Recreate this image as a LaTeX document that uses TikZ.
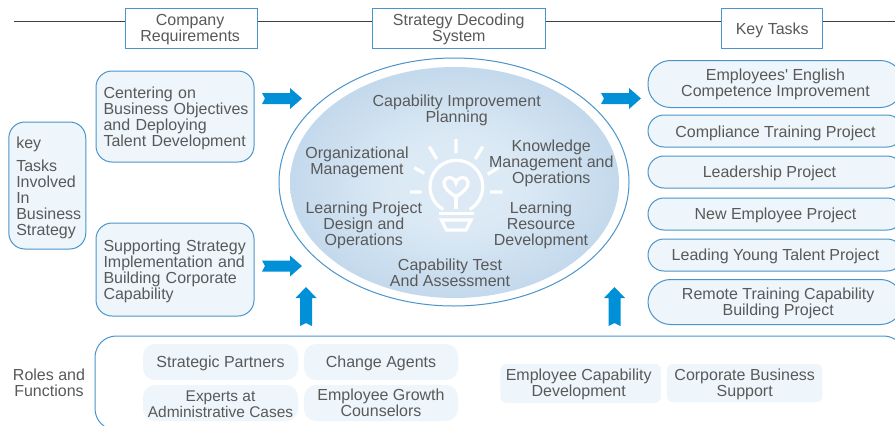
\documentclass[tikz,border=0pt]{standalone}
\usepackage{fontspec}
\setmainfont{Liberation Sans}
\newfontfamily\straightfont{Liberation Sans}
\usetikzlibrary{shapes.geometric}
\definecolor{txt}{HTML}{595959}
\definecolor{edge}{HTML}{4A94CB}
\definecolor{softfill}{HTML}{EEF6FB}
\definecolor{arrowblue}{HTML}{0090D8}
\definecolor{ruleline}{HTML}{404040}
\newcommand{\lowerone}{\rule{0pt}{10.4pt}}
\newcommand{\lowertwo}{\rule{0pt}{11.9pt}}
\pgfdeclareradialshading{bulbglow}{\pgfpoint{0bp}{0bp}}{rgb(0bp)=(0.87,0.92,0.96); rgb(10bp)=(0.86,0.915,0.96); rgb(25bp)=(0.765,0.85,0.925); rgb(50bp)=(0.76,0.85,0.925)}
\tikzset{
  boxsize/.style 2 args={minimum width=#1*0.75pt,minimum height=#2*0.75pt},
  label/.style={text=txt,font=\fontsize{12}{12}\selectfont,align=center,inner sep=0pt,
    execute at begin node={\rule{0pt}{11.2pt}},execute at end node={\rule[-2.6pt]{0pt}{0pt}}},
  push/.style={execute at begin node={\rule{0pt}{#1pt}}},
  headbox/.style={label,draw=edge,fill=white,line width=0.75pt},
  softbox/.style={label,draw=edge,fill=softfill,line width=0.75pt},
  leftbox/.style={softbox,rounded corners=12pt,align=left,inner xsep=5.6pt},
  pillbox/.style={softbox,rounded corners=12pt},
  rolebox/.style={label,fill=softfill,rounded corners=9pt},
  duty/.style={label,fill=softfill,rounded corners=4.5pt},
  bulbline/.style={draw=white,line width=2.4pt},
  rightarrow/.pic={\fill[arrowblue] (-20,-5.5) -- (8,-5.5) -- (8,-10.5) -- (20,0) -- (8,10.5) -- (8,5.5) -- (-20,5.5) -- (-17,0) -- cycle;},
  uparrow/.pic={\fill[arrowblue] (-6,19.5) -- (-6,-8.5) -- (-10.5,-8.5) -- (0,-19.5) -- (10.5,-8.5) -- (6,-8.5) -- (6,19.5) -- (0,16.5) -- cycle;}
}
\begin{document}
\begin{tikzpicture}[x=0.75pt,y=-0.75pt]
\clip[use as bounding box] (0,0) rectangle (895,425);
\fill[white] (0,0) rectangle (895,425);
% header
\coordinate (ruleL) at (14,21.5);
\coordinate (ruleR) at (895,21.5);
\node[headbox,boxsize={131.5}{40}] (company) at (191.5,28.3) {\lowerone Company\hspace*{2pt}\\Requirements\hspace*{2pt}};
\node[headbox,boxsize={172.5}{40}] (decoding) at (458.8,28.3) {\lowerone Strategy Decoding\\System};
\node[headbox,boxsize={101}{40}] (keytasks) at (772.2,28.3) {Key Tasks};
\draw[ruleline,line width=0.75pt] (ruleL) -- (company.west |- ruleL) (company.east |- ruleL) -- (decoding.west |- ruleL) (decoding.east |- ruleL) -- (keytasks.west |- ruleL) (keytasks.east |- ruleL) -- (ruleR);
% left column
\node[leftbox,push=12.7,boxsize={74.5}{127},text width=62*0.75pt] (keybox) at (47.3,185.5) {key\\[5.4pt]Tasks\\Involved\\In\\\mbox{Business}\\Strategy};
\node[leftbox,boxsize={158}{91},text width=143*0.75pt] (reqone) at (175,116.5) {Centering on\\\mbox{Business Objectives}\\and Deploying\\\mbox{Talent Development}};
\node[leftbox,boxsize={158}{93},text width=143*0.75pt] (reqtwo) at (175,269.5) {Supporting Strategy\\\mbox{Implementation and}\\Building Corporate\\Capability};
% ellipse
\node[ellipse,draw=edge,fill=white,line width=0.75pt,boxsize={350}{248},inner sep=0pt] (outerring) at (454,182) {};
\node[ellipse,shading=bulbglow,boxsize={329}{231},inner sep=0pt] (innerdisc) at (454.5,182.5) {};
% bulb
\draw[bulbline] (443.2,209.5) arc[start angle=120,end angle=420,radius=26.4];
\draw[bulbline] (456,209) -- (456,194);
\draw[bulbline] (456,197) .. controls (449,192) and (443,187.5) .. (444,182) .. controls (445,176) and (454,175.5) .. (456,183) .. controls (458,175.5) and (467,176) .. (468,182) .. controls (469,187.5) and (463,192) .. (456,197) -- cycle;
\draw[bulbline] (439,213.5) -- (474,213.5);
\draw[bulbline,line join=miter] (441.5,220) -- (471,220) -- (466,230) -- (446.5,230) -- cycle;
\draw[bulbline] (456,139) -- (456,153) (429.3,146.7) -- (436.7,159) (482.7,146.7) -- (475.3,159) (414.3,167.7) -- (424.3,173.3) (498.3,167.7) -- (487.7,174.3) (410,192) -- (421.7,192) (490,192) -- (502.7,192);
% ellipse labels
\node[label] (planning) at (456.7,110) {Capability Improvement\\Planning};
\node[label] (orgmgmt) at (357,162.5) {Organizational\\Management};
\node[label] (knowledge) at (551.3,163) {Knowledge\\Management and\\Operations};
\node[label] (design) at (363.8,225) {Learning Project\\Design and\\Operations};
\node[label] (resource) at (541,225) {Learning\\Resource\\Development};
\node[label] (assess) at (450,274) {Capability Test\\And Assessment};
% arrows
\pic at (282,98.5) {rightarrow};
\pic at (282,266) {rightarrow};
\pic at (621,98.5) {rightarrow};
\pic at (306,306.5) {uparrow};
\pic at (614.5,306.5) {uparrow};
% right column
\node[pillbox,rounded corners=17pt,boxsize={255}{47}] (english) at (775.5,84) {Employees{\straightfont '} English\\Competence Improvement};
\node[pillbox,push=12.7,boxsize={255}{32}] (compliance) at (775.5,131) {Compliance Training Project};
\node[pillbox,boxsize={255}{32}] (leadership) at (775.5,172) {Leadership Project\hspace*{9pt}};
\node[pillbox,boxsize={255}{32}] (newemp) at (775.5,214) {New Employee Project};
\node[pillbox,boxsize={255}{32}] (young) at (775.5,255) {Leading Young Talent Project};
\node[pillbox,rounded corners=17pt,boxsize={255}{45}] (remote) at (775.5,302) {\lowerone\hspace*{4pt}Remote Training Capability\\\hspace*{4pt}Building Project};
% roles
\node[label] (roles) at (49,384) {Roles and\\Functions};
\node[draw=edge,line width=0.75pt,rounded corners=16pt,boxsize={810}{94},inner sep=0pt] (rolepanel) at (500,383) {};
\node[rolebox,boxsize={155}{36}] (partners) at (220.5,362) {Strategic Partners};
\node[rolebox,boxsize={154}{36}] (agents) at (381,362) {Change Agents};
\node[rolebox,boxsize={155}{36},font=\fontsize{11.6}{12}\selectfont] (experts) at (220.5,403) {\lowertwo Experts at\\Administrative Cases};
\node[rolebox,boxsize={154}{36}] (counselors) at (381,403) {\lowerone Employee Growth\\Counselors};
\node[duty,boxsize={160.5}{39}] (capdev) at (580.7,383.3) {\lowerone Employee Capability\hspace*{3pt}\\Development\hspace*{3pt}};
\node[duty,boxsize={155.5}{38}] (support) at (744.7,383) {\lowerone Corporate Business\\Support};
\end{tikzpicture}
\end{document}
